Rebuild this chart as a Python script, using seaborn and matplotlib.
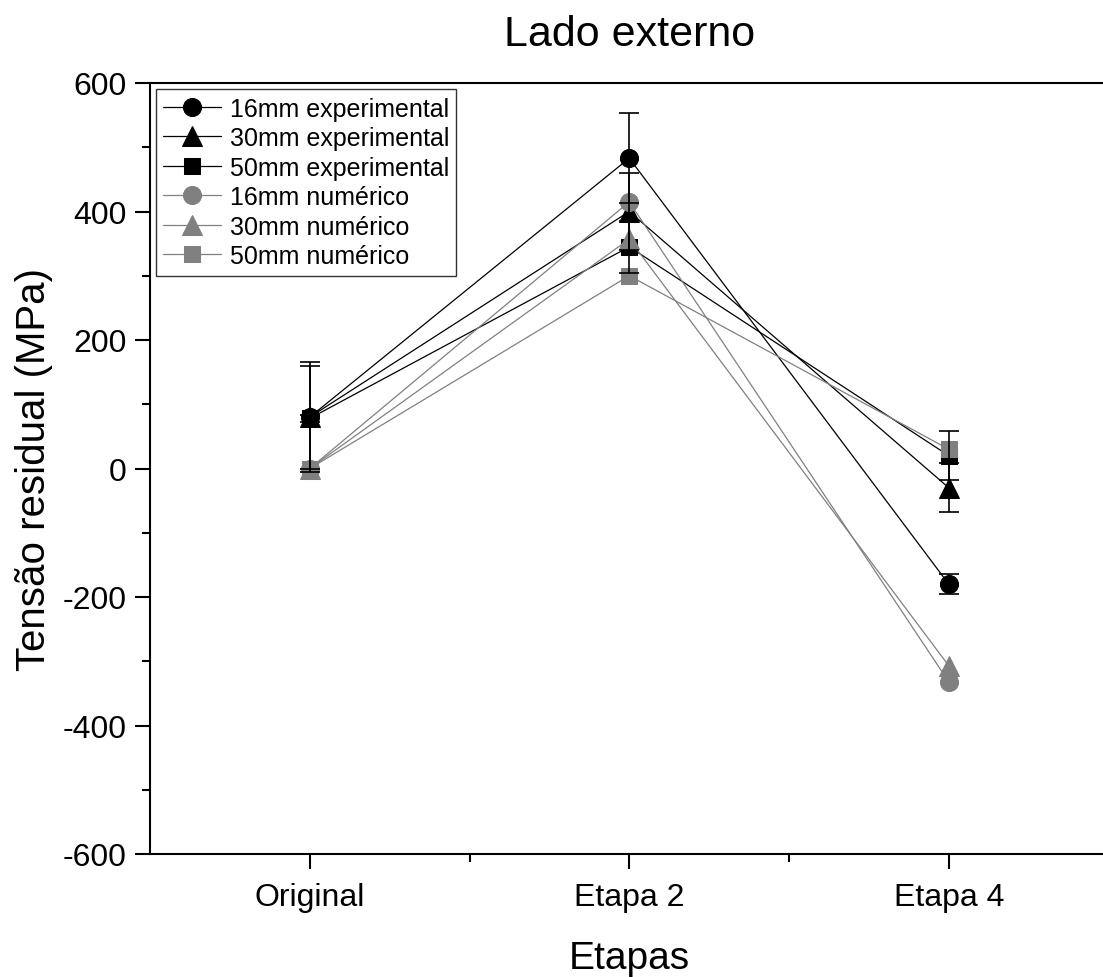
import numpy as np
import pandas as pd
import matplotlib
matplotlib.use("Agg")
import matplotlib.pyplot as plt
import seaborn as sns
from matplotlib.ticker import MultipleLocator, FixedLocator

stages = ["Original", "Etapa 2", "Etapa 4"]
exp16 = [80, 483, -180]
exp16_err = [85, 70, 16]
exp30 = [80, 400, -30]
exp30_err = [80, 60, 38]
exp50 = [78, 345, 20]
exp50_err = [5, 40, 38]
num16 = [0, 415, -332]
num30 = [0, 357, -307]
num50 = [0, 300, 30]

sns.set_theme(style="ticks")
plt.rcParams['font.family'] = ['Liberation Sans', 'DejaVu Sans']
plt.rcParams['axes.unicode_minus'] = False

fig = plt.figure(figsize=(11.03, 9.78), dpi=100)
ax = fig.add_axes([150 / 1103, 123 / 978, 958.5 / 1103, 771 / 978])

xpos = np.arange(len(stages))
BLACK = "#000000"
GRAY = "#808080"

series = [
    ("16mm experimental", exp16, "o", BLACK, exp16_err),
    ("30mm experimental", exp30, "^", BLACK, exp30_err),
    ("50mm experimental", exp50, "s", BLACK, exp50_err),
    ("16mm numérico", num16, "o", GRAY, None),
    ("30mm numérico", num30, "^", GRAY, None),
    ("50mm numérico", num50, "s", GRAY, None),
]

for i, (lab, vals, mk, col, err) in enumerate(series):
    ms = {"o": 13, "^": 14, "s": 12}[mk]
    sns.lineplot(x=xpos, y=vals, marker=mk, markersize=ms, color=col,
                 markeredgecolor=col, linewidth=0.9, label=lab, ax=ax,
                 zorder=3 + i * 0.1)
    if err is not None:
        ax.errorbar(xpos, vals, yerr=err, fmt="none", ecolor="black",
                    elinewidth=1.2, capsize=7, capthick=1.2, zorder=5)

ax.set_xlim(-0.5, 2.5)
ax.set_ylim(-600, 600)
ax.set_xticks(xpos)
ax.set_xticklabels(stages)
ax.xaxis.set_minor_locator(FixedLocator([0.5, 1.5]))
ax.yaxis.set_major_locator(MultipleLocator(200))
ax.yaxis.set_minor_locator(MultipleLocator(100))
ax.tick_params(which="major", direction="out", length=11, width=1.5,
               labelsize=23, pad=6, color="black", labelcolor="black")
ax.tick_params(axis="x", which="major", pad=9)
ax.tick_params(which="minor", direction="out", length=6, width=1.5, color="black")
for sp in ax.spines.values():
    sp.set_linewidth(1.5)
    sp.set_color("black")
    sp.set_visible(True)

ax.set_title("Lado externo", fontsize=31, pad=27, color="black")
ax.set_ylabel("Tensão residual (MPa)", fontsize=29, labelpad=7, color="black")
ax.set_xlabel("Etapas", fontsize=28, labelpad=20, color="black")

leg = ax.legend(loc="upper left", bbox_to_anchor=(0.006, 0.992), borderaxespad=0,
                fontsize=18, frameon=True, fancybox=False, edgecolor="#333333",
                framealpha=1, handlelength=2.3, handletextpad=0.35,
                labelspacing=0.22, borderpad=0.3, labelcolor="black")
leg.get_frame().set_linewidth(1.0)

fig.savefig("out.png", dpi=100)
